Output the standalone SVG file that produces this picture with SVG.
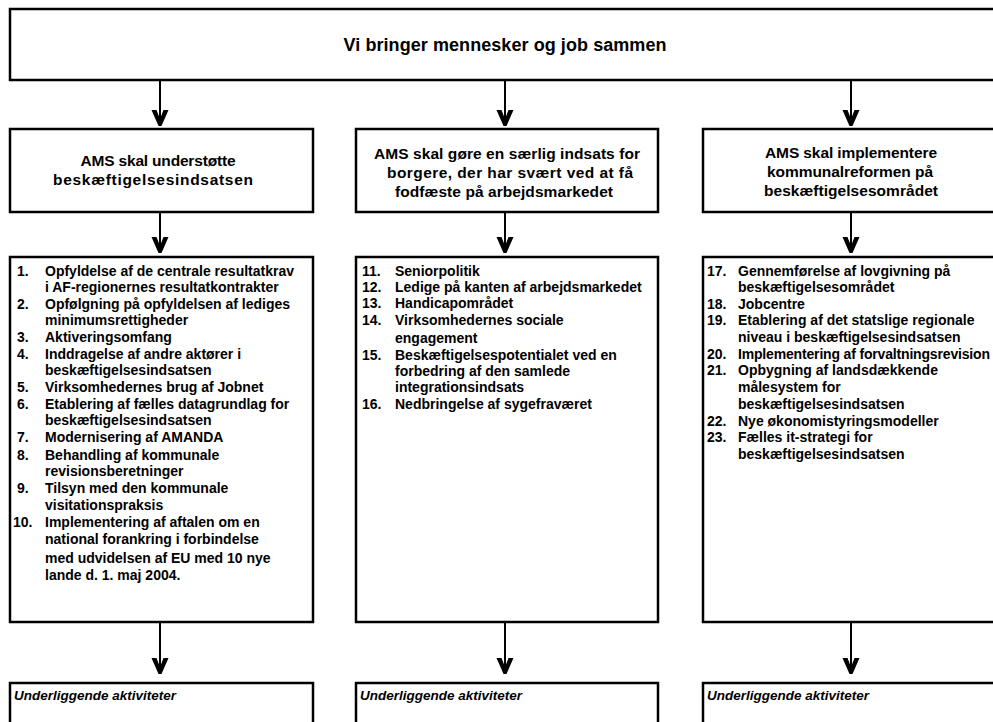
<svg xmlns="http://www.w3.org/2000/svg" xmlns:xlink="http://www.w3.org/1999/xlink" width="993" height="722" viewBox="0 0 993 722">
<style>
.box{fill:#fff;stroke:#000;stroke-width:2.5}
.t{font-family:"Liberation Sans",Arial,sans-serif;font-weight:bold;font-size:14px;fill:#000}
.h{font-size:15.5px;text-anchor:middle}
.title{font-size:18px;text-anchor:middle}
.it{font-style:italic;font-size:13.5px}
.ln{stroke:#000;stroke-width:2;fill:none}
</style>
<defs>
<polygon id="chev" points="-8.5,-16 -3.5,-16 0,-7 3.5,-16 8.5,-16 1.5,0 -1.5,0" fill="#000"/>
</defs>
<rect width="993" height="722" fill="#fff"/>

<g id="top">
<rect class="box" x="10" y="9" width="990" height="71"/>
<text class="t title" x="505" y="51" textLength="323">Vi bringer mennesker og job sammen</text>
</g>

<g id="head1">
<rect class="box" x="10" y="129" width="303" height="83"/>
<text class="t h" x="158" y="166" textLength="155">AMS skal understøtte</text>
<text class="t h" x="153" y="185" textLength="200">beskæftigelsesindsatsen</text>
</g>
<g id="head2">
<rect class="box" x="356" y="129" width="302" height="83"/>
<text class="t h" x="507" y="159" textLength="266">AMS skal gøre en særlig indsats for</text>
<text class="t h" x="510" y="178" textLength="246">borgere, der har svært ved at få</text>
<text class="t h" x="504" y="197" textLength="218">fodfæste på arbejdsmarkedet</text>
</g>
<g id="head3">
<rect class="box" x="703" y="129" width="303" height="83"/>
<text class="t h" x="851" y="158" textLength="172">AMS skal implementere</text>
<text class="t h" x="850" y="177" textLength="166">kommunalreformen på</text>
<text class="t h" x="851" y="196" textLength="174">beskæftigelsesområdet</text>
</g>

<g id="list1">
<rect class="box" x="10" y="257" width="303" height="365"/>
<text class="t" x="17" y="276">1.</text><text class="t" x="45" y="276">Opfyldelse af de centrale resultatkrav</text>
<text class="t" x="45" y="292">i AF-regionernes resultatkontrakter</text>
<text class="t" x="17" y="309">2.</text><text class="t" x="45" y="309">Opfølgning på opfyldelsen af lediges</text>
<text class="t" x="45" y="325">minimumsrettigheder</text>
<text class="t" x="17" y="342">3.</text><text class="t" x="45" y="342">Aktiveringsomfang</text>
<text class="t" x="17" y="359">4.</text><text class="t" x="45" y="359">Inddragelse af andre aktører i</text>
<text class="t" x="45" y="375">beskæftigelsesindsatsen</text>
<text class="t" x="17" y="392">5.</text><text class="t" x="45" y="392">Virksomhedernes brug af Jobnet</text>
<text class="t" x="17" y="409">6.</text><text class="t" x="45" y="409">Etablering af fælles datagrundlag for</text>
<text class="t" x="45" y="425">beskæftigelsesindsatsen</text>
<text class="t" x="17" y="442">7.</text><text class="t" x="45" y="442">Modernisering af AMANDA</text>
<text class="t" x="17" y="460">8.</text><text class="t" x="45" y="460">Behandling af kommunale</text>
<text class="t" x="45" y="476">revisionsberetninger</text>
<text class="t" x="17" y="493">9.</text><text class="t" x="45" y="493">Tilsyn med den kommunale</text>
<text class="t" x="45" y="510">visitationspraksis</text>
<text class="t" x="13" y="527">10.</text><text class="t" x="45" y="527">Implementering af aftalen om en</text>
<text class="t" x="45" y="544">national forankring i forbindelse</text>
<text class="t" x="45" y="563">med udvidelsen af EU med 10 nye</text>
<text class="t" x="45" y="580">lande d. 1. maj 2004.</text>
</g>

<g id="list2">
<rect class="box" x="356" y="257" width="302" height="365"/>
<text class="t" x="362" y="276">11.</text><text class="t" x="395" y="276">Seniorpolitik</text>
<text class="t" x="362" y="292">12.</text><text class="t" x="395" y="292">Ledige på kanten af arbejdsmarkedet</text>
<text class="t" x="362" y="308">13.</text><text class="t" x="395" y="308">Handicapområdet</text>
<text class="t" x="362" y="325">14.</text><text class="t" x="395" y="325">Virksomhedernes sociale</text>
<text class="t" x="395" y="343">engagement</text>
<text class="t" x="362" y="360">15.</text><text class="t" x="395" y="360">Beskæftigelsespotentialet ved en</text>
<text class="t" x="395" y="376">forbedring af den samlede</text>
<text class="t" x="395" y="392">integrationsindsats</text>
<text class="t" x="362" y="409">16.</text><text class="t" x="395" y="409">Nedbringelse af sygefraværet</text>
</g>

<g id="list3">
<rect class="box" x="703" y="257" width="303" height="365"/>
<text class="t" x="707" y="276">17.</text><text class="t" x="738" y="276">Gennemførelse af lovgivning på</text>
<text class="t" x="738" y="292">beskæftigelsesområdet</text>
<text class="t" x="707" y="309">18.</text><text class="t" x="738" y="309">Jobcentre</text>
<text class="t" x="707" y="325">19.</text><text class="t" x="738" y="325">Etablering af det statslige regionale</text>
<text class="t" x="738" y="342">niveau i beskæftigelsesindsatsen</text>
<text class="t" x="707" y="359">20.</text><text class="t" x="738" y="359" textLength="252">Implementering af forvaltningsrevision</text>
<text class="t" x="707" y="375">21.</text><text class="t" x="738" y="375">Opbygning af landsdækkende</text>
<text class="t" x="738" y="392">målesystem for</text>
<text class="t" x="738" y="409">beskæftigelsesindsatsen</text>
<text class="t" x="707" y="426">22.</text><text class="t" x="738" y="426">Nye økonomistyringsmodeller</text>
<text class="t" x="707" y="442">23.</text><text class="t" x="738" y="442">Fælles it-strategi for</text>
<text class="t" x="738" y="459">beskæftigelsesindsatsen</text>
</g>

<g id="sub1">
<rect class="box" x="10" y="683" width="303" height="60"/>
<text class="t it" x="14" y="700">Underliggende aktiviteter</text>
</g>
<g id="sub2">
<rect class="box" x="356" y="683" width="302" height="60"/>
<text class="t it" x="360" y="700">Underliggende aktiviteter</text>
</g>
<g id="sub3">
<rect class="box" x="703" y="683" width="303" height="60"/>
<text class="t it" x="707" y="700">Underliggende aktiviteter</text>
</g>

<g id="connectors">
<line class="ln" x1="160" y1="81" x2="160" y2="120"/>
<line class="ln" x1="505" y1="81" x2="505" y2="120"/>
<line class="ln" x1="851" y1="81" x2="851" y2="120"/>
<use xlink:href="#chev" x="160" y="126"/>
<use xlink:href="#chev" x="505" y="126"/>
<use xlink:href="#chev" x="851" y="126"/>
<line class="ln" x1="160" y1="213" x2="160" y2="248"/>
<line class="ln" x1="505" y1="213" x2="505" y2="248"/>
<line class="ln" x1="851" y1="213" x2="851" y2="248"/>
<use xlink:href="#chev" x="160" y="253"/>
<use xlink:href="#chev" x="505" y="253"/>
<use xlink:href="#chev" x="851" y="253"/>
<line class="ln" x1="160" y1="623" x2="160" y2="668"/>
<line class="ln" x1="505" y1="623" x2="505" y2="668"/>
<line class="ln" x1="851" y1="623" x2="851" y2="668"/>
<use xlink:href="#chev" x="160" y="674"/>
<use xlink:href="#chev" x="505" y="674"/>
<use xlink:href="#chev" x="851" y="674"/>
</g>
</svg>
